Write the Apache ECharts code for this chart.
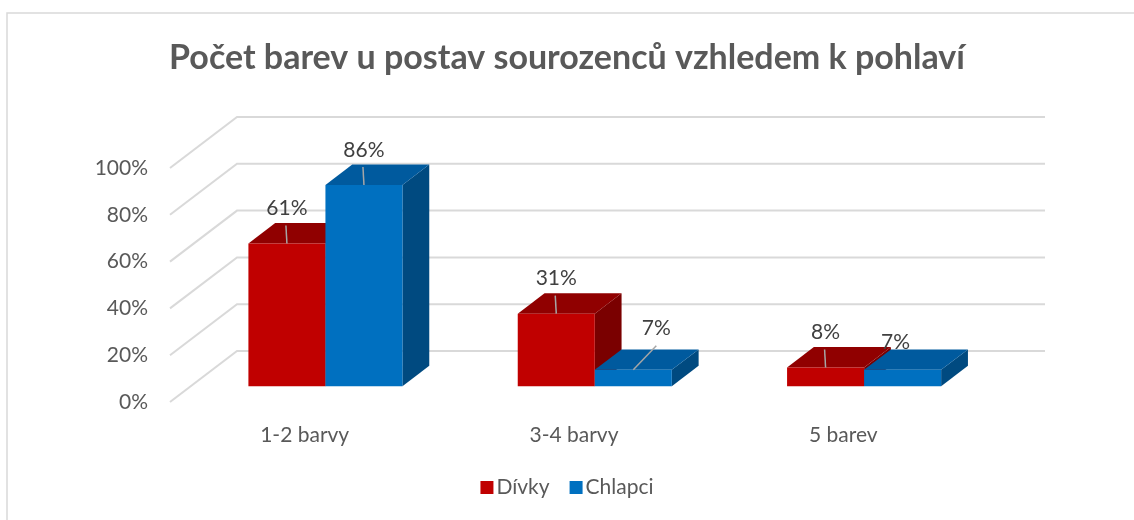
<!DOCTYPE html>
<html>
<head>
<meta charset="utf-8">
<title>Počet barev u postav sourozenců</title>
<script src="https://cdn.jsdelivr.net/npm/echarts@6/dist/echarts.min.js"></script>
<style>
  html, body { margin: 0; padding: 0; background: #fff; }
  #chart { width: 1134px; height: 520px; }
</style>
</head>
<body>
<div id="chart"></div>
<script>
// data
const categories = ['1-2 barvy', '3-4 barvy', '5 barev']
const divky = [0.61, 0.31, 0.08]
const chlapci = [0.86, 0.07, 0.07]
const yTicks = [0, 0.2, 0.4, 0.6, 0.8, 1]

// 3d look
const DX = 67, DY = -51          // floor depth, front -> back wall
const D0 = 0.31, DD = 0.4        // where bars sit in the depth, and how deep they are
const BAR = 0.286                // one bar width as part of a category
const colors = {
  Dívky: { front: '#C00000', top: '#900000', side: '#7A0000' },
  Chlapci: { front: '#0070C0', top: '#005A9E', side: '#004A80' }
}
// label nudges [dx, dy, leader]
const nudge = {
  Dívky: [null, null, null],
  Chlapci: [null, [23, -42, true], [-7, -28, false]]
}

let myEchart = echarts.init(document.getElementById('chart'))

function gridRender(params, api) {
  let cs = params.coordSys
  let y = api.coord([0, api.value(1)])[1]
  let x0 = cs.x, x1 = cs.x + cs.width
  return {
    type: 'polyline',
    shape: { points: [[x0, y], [x0 + DX, y + DY], [x1 + DX, y + DY]] },
    style: { stroke: '#d9d9d9', lineWidth: 2, fill: null }
  }
}

function barRender(name, side) {
  return function (params, api) {
    let c = colors[name]
    let idx = api.value(0)
    let val = api.value(1)
    let p0 = api.coord([idx, 0])
    let p1 = api.coord([idx, val])
    let w = api.size([1, 0])[0] * BAR
    let ox = DX * D0, oy = DY * D0
    let dx = DX * DD, dy = DY * DD
    let xl = p0[0] + ox + (side < 0 ? -w : 0)
    let xr = xl + w
    let yb = p0[1] + oy
    let yt = p1[1] + oy
    let children = [
      { type: 'polygon', shape: { points: [[xr, yb], [xr + dx, yb + dy], [xr + dx, yt + dy], [xr, yt]] },
        style: { fill: c.side } },
      { type: 'polygon', shape: { points: [[xl, yt], [xl + dx, yt + dy], [xr + dx, yt + dy], [xr, yt]] },
        style: { fill: c.top } },
      { type: 'rect', shape: { x: xl, y: yt, width: w, height: yb - yt },
        style: { fill: c.front } }
    ]
    let cx = (xl + xr) / 2
    let n = nudge[name][params.dataIndex] || [0, -35, true]
    if (n[2]) {
      let from = n[0] ? [cx + n[0], yt + n[1] + 18] : [cx - 1, yt - 18]
      children.push({ type: 'line', shape: { x1: from[0], y1: from[1], x2: cx, y2: yt },
        style: { stroke: '#a6a6a6', lineWidth: 1.5 } })
    }
    children.push({ type: 'text', x: cx + n[0], y: yt + n[1],
      style: { text: Math.round(val * 100) + '%', fill: '#404040', font: '21px Lato',
        align: 'center', verticalAlign: 'middle' } })
    return { type: 'group', children: children }
  }
}

myEchart.setOption({
  animation: false,
  backgroundColor: '#fff',
  title: {
    text: 'Počet barev u postav sourozenců vzhledem k pohlaví',
    left: 'center',
    top: 36,
    textStyle: { fontFamily: 'Lato', fontWeight: 'bold', fontSize: 34, color: '#595959' }
  },
  legend: {
    bottom: 17,
    left: 'center',
    icon: 'rect',
    itemWidth: 13,
    itemHeight: 13,
    itemGap: 20,
    textStyle: { fontFamily: 'Lato', fontSize: 21, color: '#595959', padding: [0, 0, 0, -2] },
    data: ['Dívky', 'Chlapci']
  },
  graphic: [{
    type: 'rect',
    shape: { x: 7, y: 13, width: 1200, height: 600 },
    style: { fill: null, stroke: '#d9d9d9', lineWidth: 1.5 },
    silent: true
  }],
  grid: { left: 170, right: 156, top: 168, bottom: 118 },
  xAxis: {
    type: 'category',
    data: categories,
    axisLine: { show: false },
    axisTick: { show: false },
    axisLabel: { margin: 23, fontFamily: 'Lato', fontSize: 21, color: '#595959' }
  },
  yAxis: {
    type: 'value',
    min: 0,
    max: 1,
    interval: 0.2,
    splitLine: { show: false },
    axisLine: { show: false },
    axisLabel: {
      margin: 22,
      fontFamily: 'Lato', fontSize: 21, color: '#595959',
      formatter: v => Math.round(v * 100) + '%'
    }
  },
  series: [
    {
      type: 'custom',
      silent: true,
      renderItem: gridRender,
      encode: { x: 0, y: 1 },
      data: yTicks.map(t => [0, t])
    },
    {
      name: 'Dívky',
      type: 'custom',
      itemStyle: { color: colors['Dívky'].front },
      renderItem: barRender('Dívky', -1),
      encode: { x: 0, y: 1 },
      data: divky.map((v, i) => [i, v])
    },
    {
      name: 'Chlapci',
      type: 'custom',
      itemStyle: { color: colors['Chlapci'].front },
      renderItem: barRender('Chlapci', 1),
      encode: { x: 0, y: 1 },
      data: chlapci.map((v, i) => [i, v])
    }
  ]
})
</script>
</body>
</html>
